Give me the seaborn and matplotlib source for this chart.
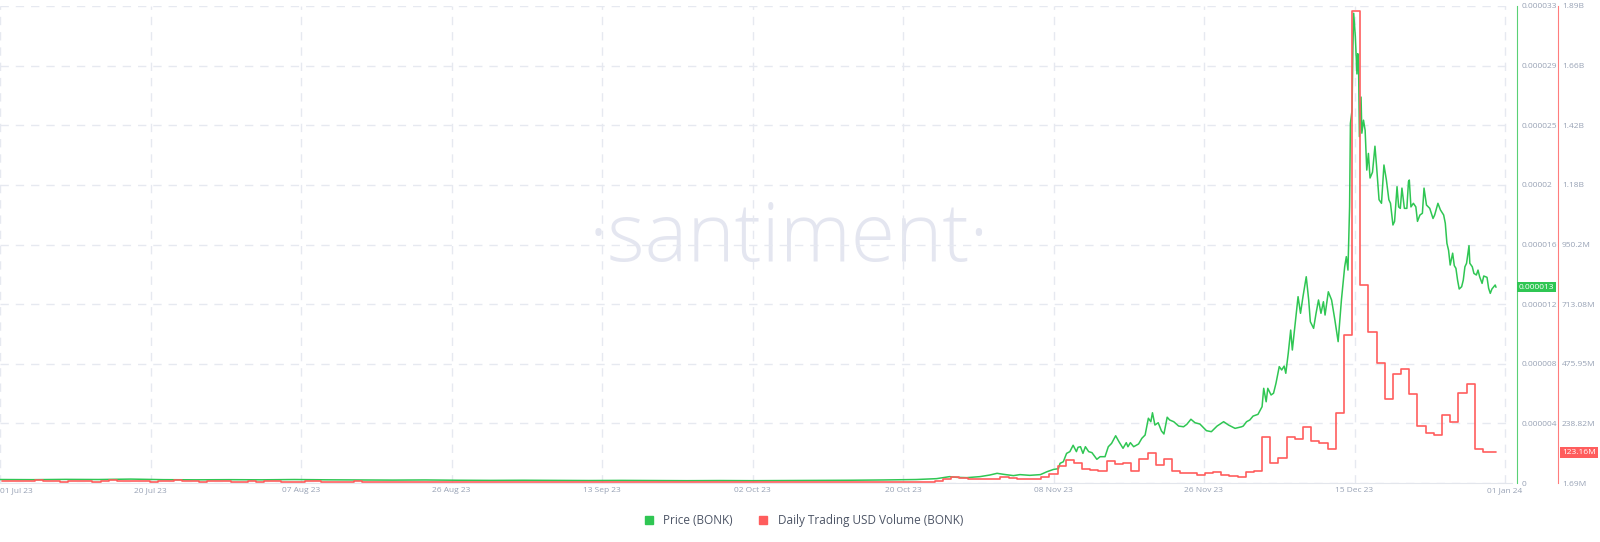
import numpy as np
import matplotlib
matplotlib.use('Agg')
import matplotlib.pyplot as plt
import matplotlib.transforms as mtransforms
from matplotlib.lines import Line2D
import seaborn as sns

sns.set_style('white')
plt.rcParams['font.family'] = ['Open Sans', 'DejaVu Sans']

# x axis: days since 01 Jul 23
date_labels = ['01 Jul 23', '20 Jul 23', '07 Aug 23', '26 Aug 23', '13 Sep 23', '02 Oct 23',
               '20 Oct 23', '08 Nov 23', '26 Nov 23', '15 Dec 23', '01 Jan 24']
price_labels = ['0', '0.000004', '0.000008', '0.000012', '0.000016', '0.00002',
                '0.000025', '0.000029', '0.000033']
volume_labels = ['1.69M', '238.82M', '475.95M', '713.08M', '950.2M', '1.18B',
                 '1.42B', '1.66B', '1.89B']

# price of BONK, in millionths of a dollar
price_days = [0, 4, 8, 12, 16, 20, 24, 28, 32, 36, 40, 44, 48, 52, 56, 60, 64, 68, 72, 76,
              80, 84, 88, 92, 96, 100, 104, 108, 112,
              113.7, 114.5, 115.5, 116.1, 117.0, 118.2, 119.8, 121.0, 121.9, 122.7, 123.9,
              124.7, 125.9, 127.2, 128.0, 128.8, 129.4, 129.6, 130.0, 130.4, 130.8, 131.2,
              131.6, 131.8, 132.1, 132.4, 132.7, 133.1, 133.5, 134.1, 134.5, 135.1, 135.5,
              135.9, 136.4, 136.8, 137.3, 137.7, 137.9, 138.2, 138.6, 139.2, 139.6, 140.0,
              140.4, 140.7, 140.9, 141.2, 141.6, 142.0, 142.3, 142.7, 143.0, 143.5, 144.1,
              144.7, 145.1, 145.6, 146.1, 146.7, 147.5, 148.1, 148.8, 149.6, 150.2, 151.0,
              151.8, 152.0, 152.4, 152.8, 153.2, 153.8, 154.3, 154.5, 154.8, 155.0, 155.4,
              155.7, 156.0, 156.4, 156.7, 157.0, 157.2, 157.5, 157.8, 158.0, 158.3, 158.7,
              159.0, 159.3, 159.7, 160.0, 160.2, 160.6, 160.9, 161.2, 161.5, 161.8, 162.0,
              162.4, 162.8, 163.2, 163.6, 164.0, 164.4, 164.6, 164.8, 165.0, 165.1, 165.3,
              165.4, 165.5, 165.7, 165.9, 166.0, 166.1, 166.2, 166.4, 166.5, 166.7, 166.9,
              167.1, 167.3, 167.5, 167.8, 168.1, 168.3, 168.6, 168.9, 169.2, 169.5, 169.8,
              170.0, 170.3, 170.5, 170.8, 171.0, 171.2, 171.4, 171.7, 172.0, 172.2, 172.3,
              172.5, 172.8, 173.1, 173.3, 173.6, 173.9, 174.1, 174.4, 174.8, 175.2, 175.4,
              175.8, 176.1, 176.5, 176.7, 176.9, 177.1, 177.3, 177.6, 177.8, 178.0, 178.2,
              178.4, 178.7, 178.9, 179.1, 179.3, 179.6, 179.7, 180.0, 180.2, 180.5, 180.7,
              180.9, 181.2, 181.4, 181.8, 182.0, 182.2, 182.4, 182.8, 182.9]
price_values = [0.24, 0.23, 0.25, 0.24, 0.27, 0.23, 0.22, 0.23, 0.22, 0.24, 0.22, 0.21, 0.20,
                0.21, 0.19, 0.18, 0.19, 0.18, 0.17, 0.18, 0.17, 0.16, 0.17, 0.16, 0.17, 0.18,
                0.19, 0.21, 0.24,
                0.28, 0.30, 0.39, 0.44, 0.39, 0.37, 0.44, 0.55, 0.67, 0.60, 0.51,
                0.58, 0.53, 0.58, 0.78, 0.94, 0.99, 1.36, 1.47, 2.05, 2.17, 2.61,
                2.17, 2.47, 2.51, 2.05, 2.51, 2.17, 2.10, 1.64, 1.82, 1.82, 2.51,
                2.74, 3.27, 2.86, 2.40, 2.79, 2.51, 2.79, 2.51, 2.70, 3.09, 3.32,
                4.48, 4.24, 4.86, 4.01, 4.17, 3.60, 3.39, 4.55, 4.36, 4.24, 3.94,
                3.89, 4.06, 4.41, 4.17, 4.08, 3.62, 3.55, 3.94, 4.24, 4.01, 3.78,
                3.89, 3.94, 4.24, 4.36, 4.63, 4.75, 5.28, 6.55, 5.62, 6.55, 6.09,
                6.21, 6.90, 8.05, 7.82, 8.09, 7.59, 8.97, 10.58, 9.20, 10.81, 12.89,
                11.74, 12.89, 14.27, 12.66, 11.16, 10.70, 11.74, 12.66, 11.74, 12.54, 11.62,
                13.23, 12.66, 11.28, 9.78, 12.66, 14.96, 15.66, 14.73, 19.11, 24.88, 25.80,
                29.95, 32.50, 30.90, 28.30, 29.70, 28.80, 23.96, 26.70, 24.20, 25.10, 24.40,
                21.65, 22.80, 21.10, 21.50, 23.30, 21.90, 19.60, 19.35, 22.00, 20.96, 19.60,
                19.35, 17.85, 18.10, 20.50, 19.10, 19.00, 20.40, 19.00, 19.00, 20.85, 20.96,
                19.10, 19.35, 19.10, 18.10, 18.54, 18.66, 20.40, 19.23, 19.00, 18.30, 18.54,
                19.35, 18.90, 18.54, 17.97, 16.58, 16.10, 15.08, 15.90, 15.04, 14.85, 14.04,
                13.42, 13.58, 14.04, 14.96, 15.20, 16.42, 15.20, 14.96, 14.50, 14.39, 14.73,
                14.27, 13.81, 14.32, 14.23, 13.47, 13.12, 13.42, 13.70, 13.54]

# daily trading volume, in millions of USD, one value per day from 01 Jul 23
volume_values = [
    9, 11, 8, 10, 12, 9, 8, 7, 9, 10, 8, 7, 11, 13, 10, 9, 8, 8, 7, 9, 10, 12, 9, 8, 7, 8, 9, 8, 7, 7, 8,
    7, 8, 9, 7, 6, 7, 8, 9, 7, 6, 6, 7, 8, 7, 6, 6, 5, 6, 7, 6, 5, 6, 6, 5, 7, 6, 5, 5, 6, 5, 5,
    5, 4, 5, 6, 5, 4, 4, 5, 5, 4, 4, 5, 4, 4, 5, 6, 5, 4, 4, 4, 5, 4, 4, 5, 4, 4, 4, 5, 4, 4,
    4, 5, 5, 4, 4, 5, 6, 5, 5, 4, 5, 5, 6, 5, 4, 5, 5, 6, 5, 6,
    5, 6, 10, 18, 26, 22, 18, 18, 18, 18, 26, 20, 18, 18, 18, 26, 37, 69, 93, 81,
    57, 53, 49, 89, 77, 81, 49, 97, 121, 73, 97, 49, 41, 41, 33, 41, 45, 33, 29, 26,
    45, 49, 185, 81, 101, 185, 177, 225, 169, 161, 137, 280, 590, 1879, 789, 602, 479, 336, 435, 455,
    356, 229, 201, 193, 272, 244, 360, 396, 137, 125, 123.16]
volume_start = 0.3   # daily bars begin a little after midnight
data_end = 182.9

green = '#2fc653'
red = '#ff5d5d'
grid_c = '#e6e9f0'
text_c = '#98a2b5'
tick_fs = 6.0

fig = plt.figure(figsize=(16, 5.42), dpi=100)
ax = fig.add_axes([0, 59 / 542, 1512 / 1600, 477 / 542])
ax2 = ax.twinx()

# watermark
ax.text(0.493, 0.557, '\u00b7santiment\u00b7', transform=fig.transFigure, ha='center', va='center',
        fontsize=58, color='#e4e6f0', fontweight='light', zorder=0)

sns.lineplot(x=price_days, y=price_values, ax=ax, color=green, linewidth=1.1,
             estimator=None, sort=False, zorder=3)

vol_x = list(np.arange(len(volume_values)) + volume_start) + [data_end]
vol_y = volume_values + [volume_values[-1]]
sns.lineplot(x=vol_x, y=vol_y, ax=ax2, color=red, linewidth=1.2,
             estimator=None, sort=False, drawstyle='steps-post', zorder=3)

x_max = 184 * 1512 / 1505
ax.set_xlim(0, x_max)
ax.set_ylim(0, 33)
vol_lo, vol_hi = 1.69, 1898.73
ax2.set_ylim(vol_lo, vol_hi)

ax.set_xticks(np.linspace(0, 184, len(date_labels)))
ax.set_xticklabels(date_labels)
ax.set_yticks(np.linspace(0, 33, len(price_labels)))
ax.set_yticklabels(price_labels)
ax2.set_yticks(np.linspace(vol_lo, vol_hi, len(volume_labels)))
ax2.set_yticklabels(volume_labels)

ax.yaxis.tick_right()
ax.grid(True, color=grid_c, linestyle=(0, (6, 5)), linewidth=1)
ax2.grid(False)
ax.set_axisbelow(True)

ax.tick_params(axis='x', length=0, pad=3, labelsize=tick_fs, labelcolor=text_c)
ax.tick_params(axis='y', length=0, pad=3, labelsize=tick_fs, labelcolor=text_c)
ax2.tick_params(axis='y', length=0, pad=3, labelsize=tick_fs, labelcolor=text_c)
ax.get_xticklabels()[0].set_ha('left')
ax.set_xlabel('')
ax.set_ylabel('')
ax2.set_ylabel('')

for s in ['top', 'left']:
    ax.spines[s].set_visible(False)
    ax2.spines[s].set_visible(False)
ax.spines['bottom'].set_color('#e3e6ec')
ax2.spines['bottom'].set_visible(False)
ax.spines['right'].set_position(('outward', 3.6))
ax.spines['right'].set_color(green)
ax.spines['right'].set_alpha(0.8)
ax2.spines['right'].set_position(('outward', 33))
ax2.spines['right'].set_color(red)
ax2.spines['right'].set_alpha(0.8)

# last-value badges
tr_p = mtransforms.blended_transform_factory(ax.transAxes, ax.transData)
ax.text(1.0045, price_values[-1], '0.000013', transform=tr_p, ha='left', va='center',
        fontsize=tick_fs, color='white', clip_on=False, zorder=5,
        bbox=dict(boxstyle='square,pad=0.2', fc=green, ec='none'))
tr_v = mtransforms.blended_transform_factory(ax2.transAxes, ax2.transData)
ax2.text(1.033, volume_values[-1], '123.16M', transform=tr_v, ha='left', va='center',
         fontsize=tick_fs, color='white', clip_on=False, zorder=5,
         bbox=dict(boxstyle='square,pad=0.25', fc=red, ec='none'))

handles = [Line2D([], [], marker='s', ls='', color=green, markersize=6, label='Price (BONK)'),
           Line2D([], [], marker='s', ls='', color=red, markersize=6,
                  label='Daily Trading USD Volume (BONK)')]
fig.legend(handles=handles, loc='center', bbox_to_anchor=(0.5, 0.039), ncol=2, frameon=False,
           fontsize=8.5, handletextpad=0.2, columnspacing=1.6, labelcolor='#4d5566')

fig.savefig('out.png', dpi=100)
